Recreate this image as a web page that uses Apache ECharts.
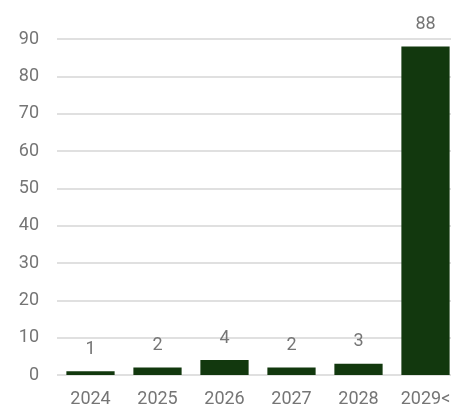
<!DOCTYPE html>
<html><head><meta charset="utf-8">
<script src="https://cdn.jsdelivr.net/npm/echarts@6/dist/echarts.min.js"></script>
<style>html,body{margin:0;padding:0;background:#fff;overflow:hidden}#c{width:459px;height:408px}</style>
</head><body><div id="c"></div>
<script>
const categories = ['2024','2025','2026','2027','2028','2029<'];
const values = [1, 2, 4, 2, 3, 88];
const yTicks = {min: 0, max: 90, interval: 10};

const chart = echarts.init(document.getElementById('c'), null, {renderer: 'canvas'});
chart.setOption({
  animation: false,
  grid: {left: 57, right: 0, top: 39, bottom: 29, containLabel: false},
  xAxis: {
    type: 'category', data: categories,
    axisLine: {show: false}, axisTick: {show: false},
    axisLabel: {color: '#757575', fontSize: 18, fontFamily: 'Roboto', margin: 15, interval: 0}
  },
  yAxis: {
    type: 'value', min: yTicks.min, max: yTicks.max, interval: yTicks.interval,
    axisLine: {show: false}, axisTick: {show: false},
    splitLine: {lineStyle: {color: '#e0e0e0', width: 2}},
    axisLabel: {color: '#757575', fontSize: 18, fontFamily: 'Roboto', margin: 18}
  },
  series: [{
    type: 'bar', data: values, barCategoryGap: '28%',
    itemStyle: {color: '#12380e'},
    label: {show: true, position: 'top', distance: 13, color: '#757575', fontSize: 18, fontFamily: 'Roboto'}
  }]
});
</script></body></html>
